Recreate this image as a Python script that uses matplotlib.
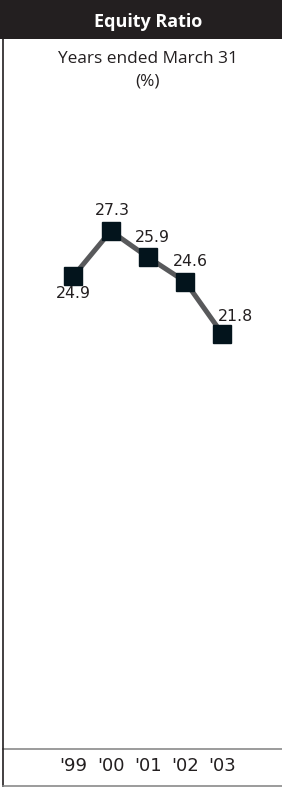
import matplotlib
matplotlib.use("Agg")
import matplotlib.pyplot as plt
from matplotlib.patches import Rectangle
from matplotlib.lines import Line2D

years = ["'99", "'00", "'01", "'02", "'03"]
values = [24.9, 27.3, 25.9, 24.6, 21.8]
label_offsets = [(0, -18), (1.5, 20), (4, 20), (5.5, 20), (13, 18)]  # pixel offsets

W, H = 282, 787
dpi = 100
fig = plt.figure(figsize=(W / dpi, H / dpi), dpi=dpi)
fig.patch.set_facecolor("white")

def fx(px):
    return px / W

def fy(py):
    return 1 - py / H

cx = 148  # panel centre (panel is cropped on the right)

# header bar
fig.patches.append(Rectangle((0, fy(39)), 1, 39 / H, transform=fig.transFigure,
                             facecolor="#231f20", edgecolor="none", zorder=0))
fig.text(fx(cx), fy(22), "Equity Ratio", color="white", fontsize=13,
         fontweight="bold", family="Open Sans", ha="center", va="center")
fig.text(fx(cx), fy(59), "Years ended March 31", color="#231f20", fontsize=12.4,
         family="Open Sans", ha="center", va="center")
fig.text(fx(cx - 1), fy(82), "(%)", color="#231f20", fontsize=12.4,
         family="Open Sans", ha="center", va="center")

# left border and bottom line
fig.lines.append(Line2D([fx(3), fx(3)], [0, 1], transform=fig.transFigure,
                        color="#231f20", lw=1.2))
fig.lines.append(Line2D([fx(3), 1], [fy(786), fy(786)], transform=fig.transFigure,
                        color="#8a8a8a", lw=1.2))

ax = fig.add_axes([fx(3), fy(749), 1 - fx(3), (749 - 39) / H])
ax.set_facecolor("none")
xs = list(range(len(years)))
ax.plot(xs, values, color="#58595b", lw=3.6, zorder=2)
ax.plot(xs, values, linestyle="none", marker="s", markersize=13,
        color="#03141c", zorder=3)

# axes limits from pixel geometry
ppx = 37.25
ppy = 18.75
x0px = 73.5
ax.set_xlim(0 - (x0px - 3) / ppx, (282 - x0px) / ppx)
ax.set_ylim(27.3 - (749 - 231) / ppy, 27.3 + (231 - 39) / ppy)

for x, v, (dx, dy) in zip(xs, values, label_offsets):
    ax.annotate(f"{v:.1f}", (x, v), xytext=(dx * 0.72, dy * 0.72),
                textcoords="offset points", ha="center", va="center",
                fontsize=11.3, family="DejaVu Sans", color="#231f20")

ax.set_xticks(xs)
ax.set_xticklabels(years, fontsize=13, family="DejaVu Sans", color="#231f20")
ax.tick_params(axis="x", length=0, pad=6)
ax.set_yticks([])
for s in ["top", "right", "left"]:
    ax.spines[s].set_visible(False)
ax.spines["bottom"].set_color("#8a8a8a")
ax.spines["bottom"].set_linewidth(1.2)

fig.savefig("out.png", dpi=dpi)
